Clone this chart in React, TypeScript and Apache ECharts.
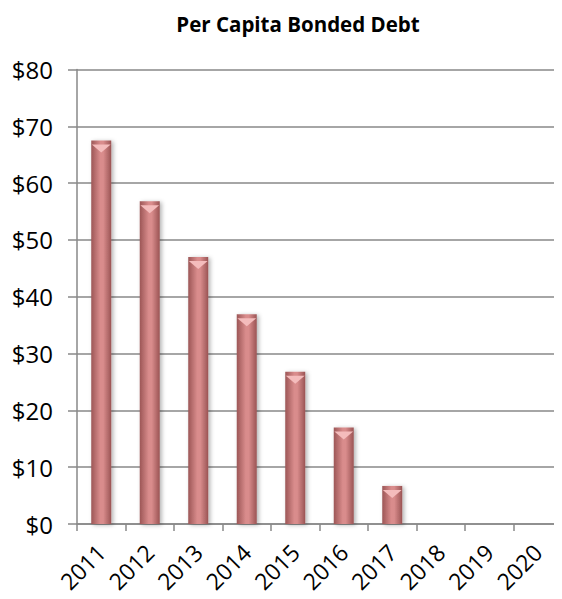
import React, { useEffect, useRef } from "react";
import * as echarts from "echarts";

const years = ["2011", "2012", "2013", "2014", "2015", "2016", "2017", "2018", "2019", "2020"];
const debt = [67.5, 56.8, 47.0, 36.9, 26.8, 17.0, 6.7, null, null, null];
const yTicks = { min: 0, max: 80, interval: 10 };
const titleText = "Per Capita Bonded Debt";

export default function App() {
  const ref = useRef<HTMLDivElement>(null);
  useEffect(() => {
    if (!ref.current) return;
    const chart = echarts.init(ref.current, null, { renderer: "svg" });
    const font = "'Open Sans', 'Liberation Sans', sans-serif";
    const barGrad = new echarts.graphic.LinearGradient(0, 0, 1, 0, [
      { offset: 0, color: "#9c5656" },
      { offset: 0.45, color: "#d98c8c" },
      { offset: 0.6, color: "#d98c8c" },
      { offset: 1, color: "#9a5454" },
    ]);
    chart.setOption({
      animation: false,
      backgroundColor: "#ffffff",
      title: {
        text: titleText,
        left: 293,
        top: 8,
        textAlign: "center",
        textStyle: { fontFamily: font, fontWeight: "bold", fontSize: 20.5, color: "#000" },
      },
      grid: { left: 77, right: 0, top: 69.5, bottom: 75, containLabel: false },
      xAxis: {
        type: "category",
        data: years,
        axisLine: { lineStyle: { color: "#888", width: 1.5 } },
        axisTick: { show: true, length: 7, lineStyle: { color: "#888", width: 1.5 } },
        axisLabel: {
          rotate: 45,
          margin: 24,
          fontFamily: font,
          fontSize: 23,
          color: "#000",
          interval: 0,
        },
      },
      yAxis: {
        type: "value",
        min: yTicks.min,
        max: yTicks.max,
        interval: yTicks.interval,
        axisLine: { show: true, lineStyle: { color: "#888", width: 1.5 } },
        axisTick: { show: true, length: 9, lineStyle: { color: "#888", width: 1.5 } },
        splitLine: { lineStyle: { color: "#888", width: 1.5 } },
        axisLabel: {
          formatter: "${value}",
          margin: 24,
          fontFamily: font,
          fontSize: 24,
          color: "#000",
        },
      },
      series: [
        {
          type: "bar",
          data: debt,
          barWidth: 20,
          itemStyle: {
            color: barGrad,
            shadowBlur: 4,
            shadowOffsetX: 2,
            shadowOffsetY: 1,
            shadowColor: "rgba(0,0,0,0.3)",
          },
          z: 2,
        },
        {
          type: "pictorialBar",
          data: debt,
          symbol: "triangle",
          symbolRotate: 180,
          symbolSize: [19, 8],
          symbolPosition: "end",
          symbolOffset: [0, "50%"],
          barGap: "-100%",
          itemStyle: { color: "#f4bcbc" },
          z: 3,
        },
      ],
    });
    return () => chart.dispose();
  }, []);
  return <div ref={ref} style={{ width: 562, height: 599, margin: -8 }} />;
}
